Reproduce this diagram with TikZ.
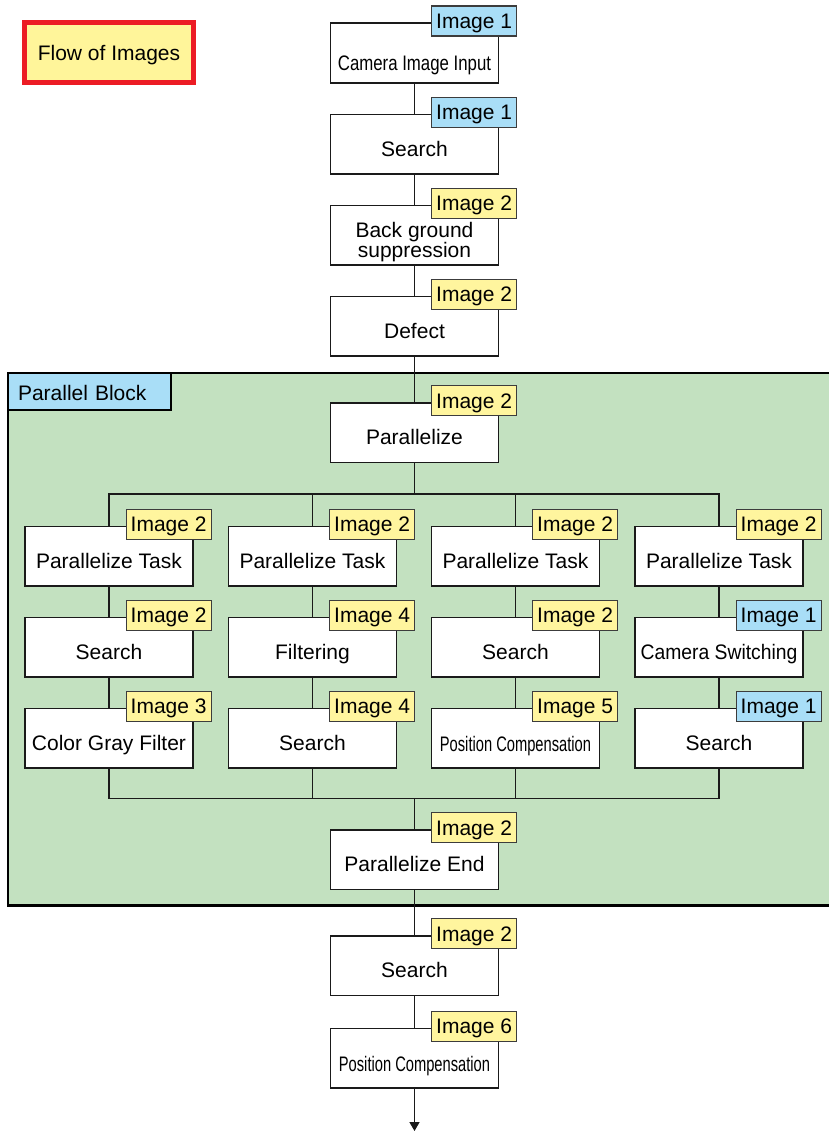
\documentclass[tikz,border=0pt]{standalone}
\usepackage{fontspec}
\setmainfont{Liberation Sans}
\usetikzlibrary{arrows.meta,positioning,calc}
\definecolor{TagYellow}{HTML}{FFF59E}
\definecolor{TagBlue}{HTML}{A9DEF7}
\definecolor{BlockGreen}{HTML}{C3E1C0}
\definecolor{FlowRed}{HTML}{EC1C24}
\definecolor{FlowFill}{HTML}{FFF59A}
\definecolor{Ink}{HTML}{1A1A1A}
\tikzset{
  proc/.style={draw=Ink,fill=white,line width=1.5pt,minimum width=168pt,minimum height=59.5pt,inner sep=0pt,align=center,font=\fontsize{21}{20}\selectfont,text height=24pt,text depth=0pt},
  imgtag/.style={draw=Ink!85,line width=1.2pt,minimum width=85pt,minimum height=30pt,inner sep=0pt,anchor=north east,font=\fontsize{21}{20}\selectfont,text height=15pt,text depth=0pt},
  tagy/.style={imgtag,fill=TagYellow},
  tagb/.style={imgtag,fill=TagBlue},
  flow/.style={draw=FlowRed,fill=FlowFill,line width=5pt,minimum width=169pt,minimum height=60pt,inner sep=0pt,font=\fontsize{21}{20}\selectfont,text height=15pt,text depth=0pt},
  blockbg/.style={draw=black,fill=BlockGreen,line width=2.5pt,inner sep=0pt},
  blocklabel/.style={draw=black,fill=TagBlue,line width=2.5pt,anchor=north west,minimum height=37pt,text width=143pt,inner xsep=10pt,inner ysep=0pt,align=left,font=\fontsize{21}{20}\selectfont,text height=18pt,text depth=0pt},
  link/.style={draw=Ink,line width=1.5pt}
}

\begin{document}
\begin{tikzpicture}[x=1pt,y=-1pt,node distance=30pt]
  \useasboundingbox (0,0) rectangle (828,1132);
  \node[flow] (flow) at (109,52.5) {Flow of Images};

  % parallel block
  \node[blockbg,minimum width=822pt,minimum height=532.5pt] (blk) at (419,639.25) {};
  \node[blocklabel] (blkname) at (blk.north west) {Parallel Block};

  % main column
  \node[proc,text height=35pt] (cam) at (414.5,53) {\scalebox{0.8}[1]{Camera Image Input}};
  \node[proc,below=of cam] (srch1) {Search};
  \node[proc,below=of srch1,text height=49pt,text depth=4pt] (bgs) {Back ground\\suppression};
  \node[proc,below=of bgs] (defect) {Defect};
  \node[proc,below=45.5pt of defect] (par) {Parallelize};
  \coordinate (split) at (414.5,494);

  % four tasks
  \node[proc] (pt1) at (109,556) {Parallelize Task};
  \node[proc] (pt2) at (312.5,556) {Parallelize Task};
  \node[proc] (pt3) at (515.5,556) {Parallelize Task};
  \node[proc] (pt4) at (719,556) {Parallelize Task};
  \node[proc,below=of pt1] (srch2) {Search};
  \node[proc,below=of pt2] (filt) {Filtering};
  \node[proc,below=of pt3] (srch3) {Search};
  \node[proc,below=of pt4] (camsw) {\scalebox{0.92}[1]{Camera Switching}};
  \node[proc,below=of srch2] (cgf) {Color Gray Filter};
  \node[proc,below=of filt] (srch4) {Search};
  \node[proc,below=of srch3,text height=27pt] (pcomp1) {\scalebox{0.7}[1]{Position Compensation}};
  \node[proc,below=of camsw] (srch5) {Search};
  \coordinate (join) at (414.5,798.5);

  \node[proc] (pend) at (414.5,859.5) {Parallelize End};
  \node[proc,below=45pt of pend] (srch6) {Search};
  \node[proc,below=31.5pt of srch6,text height=27pt] (pcomp2) {\scalebox{0.7}[1]{Position Compensation}};
  \coordinate (out) at (414.5,1131);

  % image tags
  \node[tagb] (tcam) at ($(cam.north east)+(18,-17)$) {Image 1};
  \node[tagb] (tsrch1) at ($(srch1.north east)+(18,-17)$) {Image 1};
  \node[tagy] (tbgs) at ($(bgs.north east)+(18,-17)$) {Image 2};
  \node[tagy] (tdefect) at ($(defect.north east)+(18,-17)$) {Image 2};
  \node[tagy] (tpar) at ($(par.north east)+(18,-17)$) {Image 2};
  \node[tagy] (tpt1) at ($(pt1.north east)+(18,-17)$) {Image 2};
  \node[tagy] (tpt2) at ($(pt2.north east)+(18,-17)$) {Image 2};
  \node[tagy] (tpt3) at ($(pt3.north east)+(18,-17)$) {Image 2};
  \node[tagy] (tpt4) at ($(pt4.north east)+(18,-17)$) {Image 2};
  \node[tagy] (tsrch2) at ($(srch2.north east)+(18,-17)$) {Image 2};
  \node[tagy] (tfilt) at ($(filt.north east)+(18,-17)$) {Image 4};
  \node[tagy] (tsrch3) at ($(srch3.north east)+(18,-17)$) {Image 2};
  \node[tagb] (tcamsw) at ($(camsw.north east)+(18,-17)$) {Image 1};
  \node[tagy] (tcgf) at ($(cgf.north east)+(18,-17)$) {Image 3};
  \node[tagy] (tsrch4) at ($(srch4.north east)+(18,-17)$) {Image 4};
  \node[tagy] (tpcomp1) at ($(pcomp1.north east)+(18,-17)$) {Image 5};
  \node[tagb] (tsrch5) at ($(srch5.north east)+(18,-17)$) {Image 1};
  \node[tagy] (tpend) at ($(pend.north east)+(18,-17)$) {Image 2};
  \node[tagy] (tsrch6) at ($(srch6.north east)+(18,-17)$) {Image 2};
  \node[tagy] (tpcomp2) at ($(pcomp2.north east)+(18,-17)$) {Image 6};

  % connectors
  \draw[link] (cam) -- (srch1);
  \draw[link] (srch1) -- (bgs);
  \draw[link] (bgs) -- (defect);
  \draw[link] (defect) -- (par);
  \draw[link] (par.south) -- (split);
  \draw[link] (pt1.north) |- (split) -| (pt4.north);
  \draw[link] (pt2.north) -- (pt2.north |- split);
  \draw[link] (pt3.north) -- (pt3.north |- split);
  \draw[link] (pt1) -- (srch2);
  \draw[link] (srch2) -- (cgf);
  \draw[link] (pt2) -- (filt);
  \draw[link] (filt) -- (srch4);
  \draw[link] (pt3) -- (srch3);
  \draw[link] (srch3) -- (pcomp1);
  \draw[link] (pt4) -- (camsw);
  \draw[link] (camsw) -- (srch5);
  \draw[link] (cgf.south) |- (join) -| (srch5.south);
  \draw[link] (srch4.south) -- (srch4.south |- join);
  \draw[link] (pcomp1.south) -- (pcomp1.south |- join);
  \draw[link] (join) -- (pend);
  \draw[link] (pend) -- (srch6);
  \draw[link] (srch6) -- (pcomp2);
  \draw[link,-{Triangle[length=9pt,width=10pt]}] (pcomp2) -- (out);
\end{tikzpicture}
\end{document}
